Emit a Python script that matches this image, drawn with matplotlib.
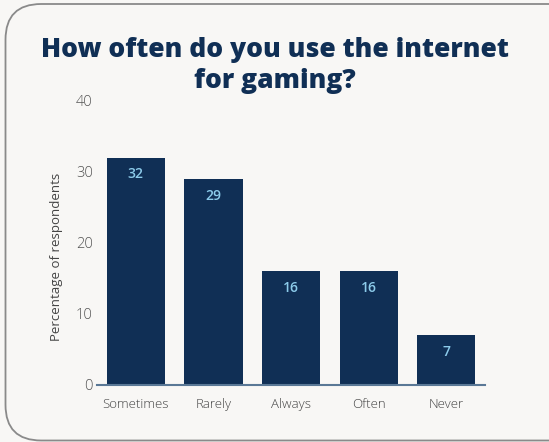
import matplotlib
matplotlib.use("Agg")
import matplotlib.pyplot as plt
from matplotlib.patches import FancyBboxPatch

categories = ["Sometimes", "Rarely", "Always", "Often", "Never"]
values = [32, 29, 16, 16, 7]
yticks = [0, 10, 20, 30, 40]

BG = "#f8f7f5"
NAVY = "#102f55"
LABEL_BLUE = "#8ccbea"
GRAY = "#555555"

W, H = 549, 442
fig = plt.figure(figsize=(W / 100, H / 100), dpi=100, facecolor=BG)

# rounded card outline
card = FancyBboxPatch((5.5 / W, 1.5 / H), (W + 30) / W, (H - 5.5) / H,
                      boxstyle="round,pad=0,rounding_size=0.065",
                      transform=fig.transFigure, facecolor=BG,
                      edgecolor="#8a8a8a", linewidth=1.3,
                      mutation_aspect=W / H, zorder=-10)
fig.patches.append(card)

TITLE_FONT = ["Open Sans", "DejaVu Sans"]
fig.text(0.5, 1 - 50 / H, "How often do you use the internet",
         ha="center", va="center", fontsize=19, fontweight=800,
         color=NAVY, family=TITLE_FONT)
fig.text(0.5, 1 - 81 / H, "for gaming?",
         ha="center", va="center", fontsize=19, fontweight=800,
         color=NAVY, family=TITLE_FONT)

ax_left, ax_right = 97 / W, 485 / W
ax_bottom, ax_top = 1 - 384.5 / H, 1 - 101 / H
ax = fig.add_axes([ax_left, ax_bottom, ax_right - ax_left, ax_top - ax_bottom])
ax.set_facecolor("none")

x = range(len(categories))
bars = ax.bar(x, values, width=0.75, color=NAVY, zorder=2)
for xi, v in zip(x, values):
    ax.annotate(str(v), (xi, v), xytext=(0, -12), textcoords="offset points",
                ha="center", va="center", fontsize=10, fontweight=600,
                color=LABEL_BLUE, family=["Open Sans", "DejaVu Sans"], zorder=3)

ax.set_xlim(-0.5, len(categories) - 0.5)
ax.set_ylim(0, 40)
ax.set_yticks(yticks)
ax.set_xticks(list(x))
ax.set_xticklabels(categories)

for s in ["top", "right", "left"]:
    ax.spines[s].set_visible(False)
ax.spines["bottom"].set_color("#5a7896")
ax.spines["bottom"].set_linewidth(1.5)

ax.tick_params(axis="y", length=0, pad=3, labelsize=10.5, labelcolor=GRAY)
ax.tick_params(axis="x", length=0, pad=10, labelsize=9.5, labelcolor="#444444")
for lab in ax.get_yticklabels() + ax.get_xticklabels():
    lab.set_family(["Open Sans", "DejaVu Sans"])
    lab.set_fontweight("light")

ax.set_ylabel("Percentage of respondents", fontsize=9.5, color="#444444",
              family=["Open Sans", "DejaVu Sans"])
ax.yaxis.set_label_coords(-0.087, 0.45)

fig.savefig("out.png", dpi=100, facecolor=BG)
